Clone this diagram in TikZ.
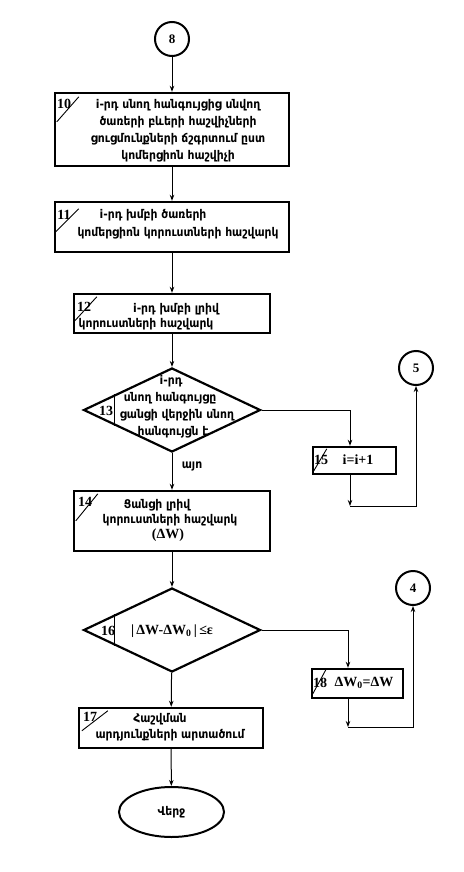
\documentclass[tikz,border=0pt]{standalone}
\usepackage{fontspec}
\setmainfont{Liberation Serif}
\newfontfamily\armfont[FakeStretch=0.9, BoldFont={DejaVu Sans Bold}, BoldFeatures={FakeStretch=0.9}]{DejaVu Sans}
\usetikzlibrary{shapes.geometric,arrows.meta,calc}
\tikzset{
  box/.style={draw, line width=2.4pt, inner sep=0pt},
  dia/.style={draw, diamond, line width=2.2pt, inner sep=0pt},
  conn/.style={draw, circle, line width=2pt, minimum size=34pt, inner sep=0pt, font=\bfseries\fontsize{13}{13}\selectfont},
  arr/.style={line width=1pt, -{Stealth[length=6pt,width=4.5pt]}},
  ln/.style={line width=1pt},
  sl/.style={line width=0.9pt},
  arm/.style={font=\armfont\bfseries\fontsize{12}{13}\selectfont, inner sep=0pt},
  num/.style={font=\bfseries\fontsize{14}{14}\selectfont, inner sep=0pt},
  lat/.style={font=\bfseries\fontsize{14}{14}\selectfont, inner sep=0pt},
}
\begin{document}
\begin{tikzpicture}[x=1pt,y=-1pt]
\useasboundingbox (0,0) rectangle (463,872);
% shapes
\node[conn] (c8) at (172,39) {8};
\node[box, minimum width=234pt, minimum height=73pt] (b10) at (172,129.5) {};
\node[box, minimum width=234pt, minimum height=50pt] (b11) at (172,227) {};
\node[box, minimum width=196pt, minimum height=39pt] (b12) at (172,313.5) {};
\node[dia, minimum width=177pt, minimum height=84pt] (d13) at (172,410) {};
\node[box, minimum width=196pt, minimum height=60pt] (b14) at (172,521) {};
\node[box, minimum width=83pt, minimum height=27pt] (b15) at (354.5,460.5) {};
\node[conn] (c5) at (416,368) {5};
\node[dia, minimum width=177pt, minimum height=84pt] (d16) at (172,630) {};
\node[box, minimum width=91pt, minimum height=29pt] (b18) at (357.5,683.5) {};
\node[conn] (c4) at (413,588) {4};
\node[box, minimum width=184pt, minimum height=40pt] (b17) at (171,728) {};
\node[draw, ellipse, line width=2pt, minimum width=105pt, minimum height=50pt, inner sep=0pt] (end) at (171.5,812) {};
% junctions
\coordinate (j13) at (350,410);
\coordinate (j15) at (350,506);
\coordinate (j16) at (348,630);
\coordinate (j18) at (348,727);
% texts
\node[num] (n10) at (64,104) {10};
\draw[sl] ([shift={(25,5)}]b10.north west) -- ([shift={(3,30)}]b10.north west);
\node[arm] (t10a) at (178,105) {i-րդ սնող հանգույցից սնվող};
\node[arm] (t10b) at (178,122) {ծառերի բևերի հաշվիչների};
\node[arm] (t10c) at (178,139) {ցուցմունքների ճշգրտում ըստ};
\node[arm] (t10d) at (178,156) {կոմերցիոն հաշվիչի};

\node[num] (n11) at (64,215) {11};
\draw[sl] ([shift={(25,8)}]b11.north west) -- ([shift={(2,31)}]b11.north west);
\node[arm] (t11a) at (153,215) {i-րդ խմբի ծառերի};
\node[arm] (t11b) at (178,233) {կոմերցիոն կորուստների հաշվարկ};

\node[num] (n12) at (84,307) {12};
\draw[sl] ([shift={(24,4)}]b12.north west) -- ([shift={(2,28)}]b12.north west);
\node[arm] (t12a) at (176,309) {i-րդ խմբի լրիվ};
\node[arm] (t12b) at (146,324) {կորուստների հաշվարկ};

\draw[ln] ($(d13.west)!0.36!(d13.north)$) -- ($(d13.west)!0.36!(d13.south)$);
\node[num] (n13) at (106,411) {13};
\node[arm] (t13a) at (171,381) {i-րդ};
\node[arm] (t13b) at (170,398) {սնող հանգույցը};
\node[arm] (t13c) at (177,415) {ցանցի վերջին սնող};
\node[arm] (t13d) at (173,432) {հանգույցն է};
\node[arm] (yes) at (192,466) {այո};

\node[num] (n14) at (85,502) {14};
\draw[sl] ([shift={(25,4)}]b14.north west) -- ([shift={(3,31)}]b14.north west);
\node[arm] (t14a) at (157,505) {Ցանցի լրիվ};
\node[arm] (t14b) at (170,520) {կորուստների հաշվարկ};
\node[lat] (t14c) at (168,535) {(ΔW)};

\node[num] (n15) at (321,460) {15};
\draw[sl] ([shift={(15,3)}]b15.north west) -- ([shift={(2,25)}]b15.north west);
\node[lat] (t15) at (358,460) {i=i+1};

\draw[ln] ($(d16.west)!0.36!(d16.north)$) -- ($(d16.west)!0.36!(d16.south)$);
\node[num] (n16) at (108,631) {16};
\node[lat] (t16) at (172,631) {|\,ΔW-ΔW\textsubscript{0}\,|\,≤ε};

\node[num] (n18) at (320,683) {18};
\draw[sl] ([shift={(15,2)}]b18.north west) -- ([shift={(2,26)}]b18.north west);
\node[lat] (t18) at (364,683) {ΔW\textsubscript{0}=ΔW};

\node[num] (n17) at (90,717) {17};
\draw[sl] ([shift={(30,4)}]b17.north west) -- ([shift={(4,24)}]b17.north west);
\node[arm] (t17a) at (160,719) {Հաշվման};
\node[arm] (t17b) at (170,735) {արդյունքների արտածում};

\node[arm] (tend) at (171.5,812) {Վերջ};

% connectors
\draw[arr] (c8) -- (b10);
\draw[arr] (b10) -- (b11);
\draw[arr] (b11) -- (b12);
\draw[arr] (b12) -- (d13);
\draw[arr] (d13) -- (b14);
\draw[ln] (d13.east) -- (j13);
\draw[arr] (j13) -- (j13 |- b15.north);
\draw[arr] (j15 |- b15.south) -- (j15);
\draw[arr] (j15) -| (c5.south);
\draw[arr] (b14) -- (d16);
\draw[ln] (d16.east) -- (j16);
\draw[arr] (j16) -- (j16 |- b18.north);
\draw[arr] (j18 |- b18.south) -- (j18);
\draw[arr] (j18) -| (c4.south);
\draw[arr] (d16) -- (b17);
\draw[arr] (b17) -- (end);
\end{tikzpicture}
\end{document}
